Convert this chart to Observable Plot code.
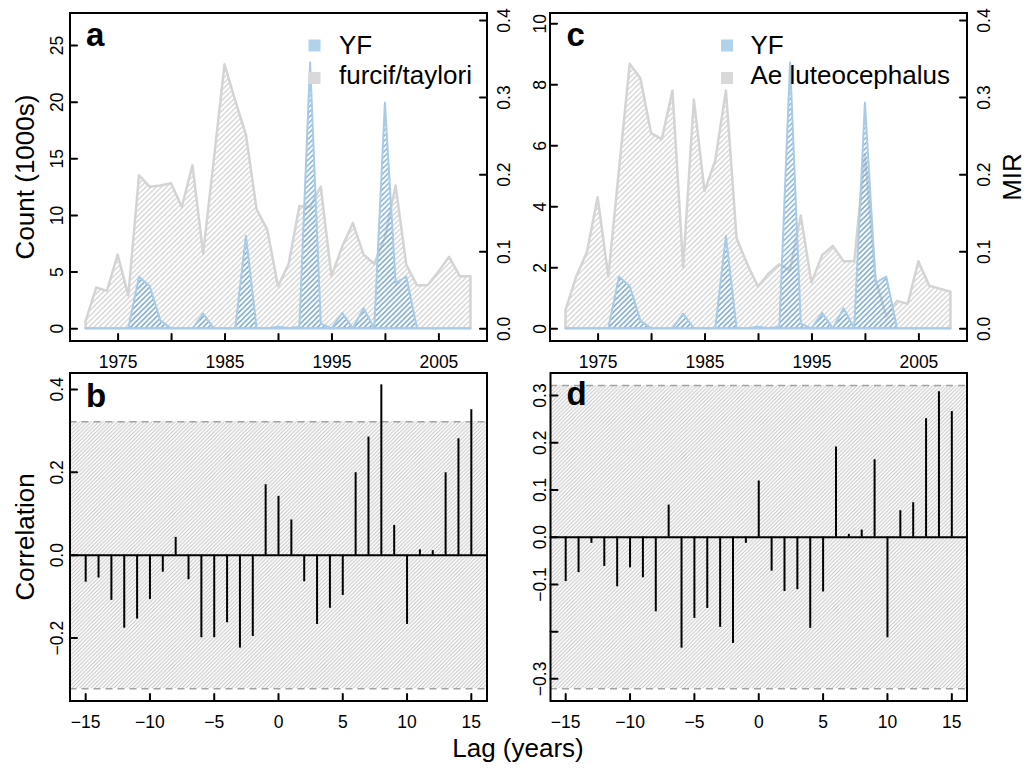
<!DOCTYPE html>
<html><head><meta charset="utf-8">
<script src="https://cdn.jsdelivr.net/npm/d3@7"></script>
<script src="https://cdn.jsdelivr.net/npm/@observablehq/plot@0.6"></script>
<style>
body{margin:0;background:#fff;}
#fig{position:relative;width:1027px;height:769px;overflow:hidden;background:#fff;}
#fig svg{position:absolute;left:0;top:0;}
</style></head><body><div id="fig"></div>
<script>
// ---------------- data ----------------
const years = [1972,1973,1974,1975,1976,1977,1978,1979,1980,1981,1982,1983,1984,1985,1986,1987,1988,1989,1990,1991,1992,1993,1994,1995,1996,1997,1998,1999,2000,2001,2002,2003,2004,2005,2006,2007,2008];
const yfMIR = [0,0,0,0,0,0.067,0.055,0.010,0,0,0,0.019,0,0,0,0.12,0,0,0.002,0,0.002,0.345,0.006,0,0.02,0,0.026,0,0.293,0.059,0.067,0,0,0,0,0,0];
const furcifCount = [0.6,3.6,3.3,6.5,2.9,13.5,12.5,12.6,12.8,10.7,14.4,6.6,14.9,23.3,20.1,17.1,10.5,8.7,3.7,5.7,10.8,10.7,12.5,4.6,7.2,9.3,6.5,5.7,8.0,12.6,5.6,3.8,3.8,5.0,6.3,4.6,4.6];
const luteoCount = [0.6,1.7,2.5,4.3,1.7,5.2,8.67,8.2,6.4,6.2,7.8,2.0,7.5,4.5,5.5,7.8,2.95,2.1,1.37,1.8,2.1,1.9,3.7,1.5,2.4,2.7,2.2,2.2,5.7,1.6,0.4,0.9,0.8,2.2,1.4,1.3,1.2];
const lags = [-15,-14,-13,-12,-11,-10,-9,-8,-7,-6,-5,-4,-3,-2,-1,0,1,2,3,4,5,6,7,8,9,10,11,12,13,14,15];
const corrB = [-0.065,-0.055,-0.109,-0.176,-0.154,-0.107,-0.041,0.043,-0.059,-0.199,-0.199,-0.163,-0.224,-0.196,0.170,0.142,0.085,-0.064,-0.167,-0.128,-0.097,0.199,0.285,0.411,0.072,-0.167,0.013,0.011,0.199,0.281,0.351];
const corrD = [-0.094,-0.075,-0.013,-0.062,-0.105,-0.065,-0.086,-0.158,0.068,-0.235,-0.172,-0.151,-0.191,-0.225,-0.013,0.119,-0.072,-0.115,-0.111,-0.193,-0.116,0.191,0.006,0.015,0.164,-0.213,0.056,0.073,0.251,0.308,0.266];
const ciB = 0.322, ciD = 0.321;
const yearTicks = [1975,1980,1985,1990,1995,2000,2005];
const yearLabels = [1975,1985,1995,2005];
const countTicksA = [0,5,10,15,20,25];
const countTicksC = [0,2,4,6,8,10];
const mirTicks = [0,0.1,0.2,0.3,0.4];
const corrTicksB = [-0.2,0,0.2,0.4];
const corrTicksD = [-0.3,-0.2,-0.1,0,0.1,0.2,0.3];
const corrLabelsD = [-0.3,-0.1,0,0.1,0.2,0.3];
const lagTicks = [-15,-10,-5,0,5,10,15];
const seriesNames = {yf: "YF", a: "furcif/taylori", c: "Ae luteocephalus"};

// ---------------- setup ----------------
const W = 1027, H = 769;
const FONT = '"Liberation Sans", Arial, Helvetica, sans-serif';
const fig = document.getElementById("fig");
const BLUE_SQ = "#b1d3ea", GRAY_SQ = "#d9d9d9";

function hatchPath(s){ return `M-1,1L1,-1M0,${s}L${s},0M${s-1},${s+1}L${s+1},${s-1}`; }
fig.innerHTML = `<svg width="0" height="0"><defs>
<pattern id="hatchGray" patternUnits="userSpaceOnUse" width="5.2" height="5.2"><path d="${hatchPath(5.2)}" stroke="#cdcdcd" stroke-width="1.1" fill="none"/></pattern>
<pattern id="hatchBlue" patternUnits="userSpaceOnUse" width="5.2" height="5.2"><path d="${hatchPath(5.2)}" stroke="#6fa7d3" stroke-width="1.3" fill="none"/></pattern>
<pattern id="hatchFine" patternUnits="userSpaceOnUse" width="3.8" height="3.8"><path d="${hatchPath(3.8)}" stroke="#c2c2c2" stroke-width="1" fill="none"/></pattern>
</defs></svg>`;

const tickShape = {draw(ctx, l){ ctx.moveTo(0,0); ctx.lineTo(0,-l); }};

function layer(frame, xDomain, yDomain, marks){
  const [l,t,r,b] = frame;
  const svg = Plot.plot({
    width: W, height: H,
    marginLeft: l, marginTop: t, marginRight: W - r, marginBottom: H - b,
    x: {domain: xDomain, axis: null},
    y: {domain: yDomain, axis: null},
    style: {background: "transparent", overflow: "visible", fontFamily: FONT, fontSize: "17.5px", color: "black"},
    marks
  });
  fig.appendChild(svg);
}

// axis helpers
const fmt1 = d3.format(".1f");
function bottomAxis(ticks, labels, format){
  return [
    Plot.vector(ticks, {x: d => d, frameAnchor: "bottom", rotate: 0, length: 7, anchor: "start", shape: tickShape, stroke: "black", strokeWidth: 2}),
    Plot.text(labels, {x: d => d, frameAnchor: "bottom", dy: 21, text: format, lineAnchor: "middle", fontSize: 17.5})
  ];
}
function leftAxis(ticks, labels, format, gap){
  return [
    Plot.vector(ticks, {y: d => d, frameAnchor: "left", rotate: 90, length: 7, anchor: "start", shape: tickShape, stroke: "black", strokeWidth: 2}),
    Plot.text(labels, {y: d => d, frameAnchor: "left", dx: -gap, rotate: -90, textAnchor: "middle", lineAnchor: "bottom", text: format, fontSize: 17.5})
  ];
}
function rightAxis(ticks, format){
  return [
    Plot.vector(ticks, {y: d => d, frameAnchor: "right", rotate: -90, length: 7, anchor: "start", shape: tickShape, stroke: "black", strokeWidth: 2}),
    Plot.text(ticks, {y: d => d, frameAnchor: "right", dx: 11, rotate: -90, textAnchor: "middle", lineAnchor: "top", text: format, fontSize: 17.5})
  ];
}
function letter(ch, dx, dy){
  return Plot.text([ch], {text: d => d, frameAnchor: "top-left", dx, dy, textAnchor: "start", lineAnchor: "bottom", fontSize: 33, fontWeight: "bold"});
}
function legend(dxSq, dxTxt, name){
  const side = 12, r = side / Math.sqrt(Math.PI);
  return [
    Plot.dot([0], {frameAnchor: "top-left", dx: dxSq, dy: 32.5, symbol: "square", r, fill: BLUE_SQ, stroke: "none"}),
    Plot.dot([0], {frameAnchor: "top-left", dx: dxSq, dy: 65, symbol: "square", r, fill: GRAY_SQ, stroke: "none"}),
    Plot.text([seriesNames.yf], {text: d => d, frameAnchor: "top-left", dx: dxTxt, dy: 41, textAnchor: "start", lineAnchor: "bottom", fontSize: 26}),
    Plot.text([name], {text: d => d, frameAnchor: "top-left", dx: dxTxt, dy: 71, textAnchor: "start", lineAnchor: "bottom", fontSize: 26})
  ];
}

const rows = years.map((yr, i) => ({year: yr, mir: yfMIR[i], furcif: furcifCount[i], luteo: luteoCount[i]}));
const rowsB = lags.map((l, i) => ({lag: l, r: corrB[i]}));
const rowsD = lags.map((l, i) => ({lag: l, r: corrD[i]}));
const yearDomain = [1970.5, 2009.5];
const fmtInt = d => String(d);

// ---------------- panel a ----------------
const FA = [69.5, 12.5, 486.5, 340.5];
layer(FA, yearDomain, [-1.08, 27.87], [
  Plot.areaY(rows, {x: "year", y: "furcif", fill: "url(#hatchGray)", stroke: "#d4d4d4", strokeWidth: 2.5, strokeLinejoin: "round"}),
  ...leftAxis(countTicksA, countTicksA, fmtInt, 7.5),
  ...bottomAxis(yearTicks, yearLabels, fmtInt),
  letter("a", 16, 32.5),
  Plot.text(["Count (1000s)"], {text: d => d, frameAnchor: "left", dx: -36.5, rotate: -90, textAnchor: "middle", lineAnchor: "bottom", fontSize: 26})
]);
layer(FA, yearDomain, [-0.0158, 0.4097], [
  Plot.areaY(rows, {x: "year", y: "mir", fill: "url(#hatchBlue)", stroke: "#a9cbe6", strokeWidth: 2, strokeLinejoin: "round"}),
  ...rightAxis(mirTicks, fmt1),
  ...legend(244.5, 269, seriesNames.a),
  Plot.frame({stroke: "black", strokeWidth: 2})
]);

// ---------------- panel c ----------------
const FC = [549.5, 12.5, 966.5, 340.5];
layer(FC, yearDomain, [-0.4, 10.354], [
  Plot.areaY(rows, {x: "year", y: "luteo", fill: "url(#hatchGray)", stroke: "#d4d4d4", strokeWidth: 2.5, strokeLinejoin: "round"}),
  ...leftAxis(countTicksC, countTicksC, fmtInt, 4.5),
  ...bottomAxis(yearTicks, yearLabels, fmtInt),
  letter("c", 16.5, 32.5)
]);
layer(FC, yearDomain, [-0.0158, 0.4097], [
  Plot.areaY(rows, {x: "year", y: "mir", fill: "url(#hatchBlue)", stroke: "#a9cbe6", strokeWidth: 2, strokeLinejoin: "round"}),
  ...rightAxis(mirTicks, fmt1),
  ...legend(177, 200.5, seriesNames.c),
  Plot.text(["MIR"], {text: d => d, frameAnchor: "right", dx: 53.5, rotate: -90, textAnchor: "middle", lineAnchor: "bottom", fontSize: 26}),
  Plot.frame({stroke: "black", strokeWidth: 2})
]);

// ---------------- panel b ----------------
const FB = [69.5, 372.5, 486.5, 700.5];
layer(FB, [-16.22, 16.22], [-0.3517, 0.4396], [
  Plot.rect([{lo: -ciB, hi: ciB}], {y1: "lo", y2: "hi", fill: "url(#hatchFine)"}),
  Plot.ruleY([ciB, -ciB], {stroke: "#a3a3a3", strokeWidth: 1.5, strokeDasharray: "7,5"}),
  Plot.ruleY([0], {stroke: "black", strokeWidth: 2}),
  Plot.ruleX(rowsB, {x: "lag", y1: 0, y2: "r", stroke: "black", strokeWidth: 2}),
  ...leftAxis(corrTicksB, corrTicksB, fmt1, 7.5),
  ...bottomAxis(lagTicks, lagTicks, d3.format("d")),
  letter("b", 16, 33.5),
  Plot.text(["Correlation"], {text: d => d, frameAnchor: "left", dx: -36.5, rotate: -90, textAnchor: "middle", lineAnchor: "bottom", fontSize: 26}),
  Plot.text(["Lag (years)"], {text: d => d, frameAnchor: "bottom-right", dx: 31, dy: 55.5, textAnchor: "middle", lineAnchor: "bottom", fontSize: 26}),
  Plot.frame({stroke: "black", strokeWidth: 2})
]);

// ---------------- panel d ----------------
const FD = [550, 372.5, 966.5, 700.5];
layer(FD, [-16.18, 16.18], [-0.3469, 0.3477], [
  Plot.rect([{lo: -ciD, hi: ciD}], {y1: "lo", y2: "hi", fill: "url(#hatchFine)"}),
  Plot.ruleY([ciD, -ciD], {stroke: "#a3a3a3", strokeWidth: 1.5, strokeDasharray: "7,5"}),
  Plot.ruleY([0], {stroke: "black", strokeWidth: 2}),
  Plot.ruleX(rowsD, {x: "lag", y1: 0, y2: "r", stroke: "black", strokeWidth: 2}),
  ...leftAxis(corrTicksD, corrLabelsD, fmt1, 4.5),
  ...bottomAxis(lagTicks, lagTicks, d3.format("d")),
  letter("d", 16, 31.5),
  Plot.frame({stroke: "black", strokeWidth: 2})
]);
</script></body></html>
